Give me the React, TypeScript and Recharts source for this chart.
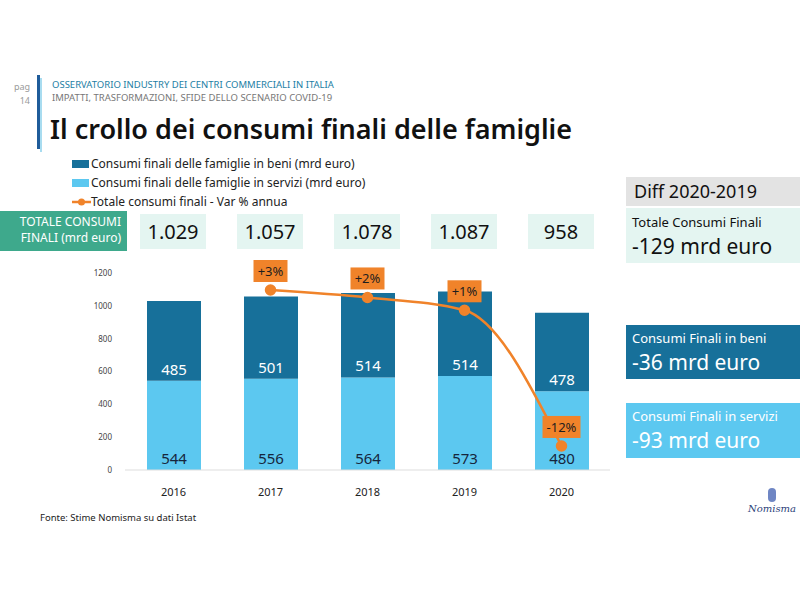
import { ComposedChart, Bar, Line, XAxis, YAxis, LabelList } from "recharts";

const years = ["2016", "2017", "2018", "2019", "2020"];
const servizi = [544, 556, 564, 573, 480];
const beni = [485, 501, 514, 514, 478];
const totals = ["1.029", "1.057", "1.078", "1.087", "958"];
const varPct = [null, 2.7, 2.0, 0.8, -11.9];
const varLabels = ["", "+3%", "+2%", "+1%", "-12%"];
const yTicks = [0, 200, 400, 600, 800, 1000, 1200];

const DARK = "#17709a";
const LIGHT = "#5cc8f0";
const ORANGE = "#f0832a";
const MINT = "#e4f5f1";
const GREEN = "#3ea98c";
const FONT = "'Noto Sans', sans-serif";

const data = years.map((y, i) => ({
  year: y,
  servizi: servizi[i],
  beni: beni[i],
  pct: varPct[i],
  pctLabel: varLabels[i],
}));

const barLabel = (color: string) => (props: any) => {
  const { x, y, width, height, value } = props;
  return (
    <text
      x={x + width / 2}
      y={y + height - 12}
      textAnchor="middle"
      dominantBaseline="central"
      fill={color}
      fontSize={15}
      fontFamily={FONT}
    >
      {value}
    </text>
  );
};

const pctLabel = (props: any) => {
  const { x, y, index } = props;
  const txt = varLabels[index];
  if (!txt) return null;
  const w = txt.length > 3 ? 38 : 34;
  return (
    <g>
      <rect x={x - w / 2} y={y - 30} width={w} height={22} fill={ORANGE} />
      <text
        x={x}
        y={y - 19}
        textAnchor="middle"
        dominantBaseline="central"
        fill="#1e1e1e"
        fontSize={13}
        fontFamily={FONT}
      >
        {txt}
      </text>
    </g>
  );
};

const abs = (l: number, t: number, w: number, h: number) => ({
  position: "absolute" as const,
  left: l,
  top: t,
  width: w,
  height: h,
});

export default function App() {
  const centers = [173, 270, 367, 464, 561];
  return (
    <div style={{ ...abs(0, 0, 800, 600), background: "#fff", fontFamily: FONT, overflow: "hidden" }}>
      {/* header */}
      <div style={{ ...abs(6, 81, 24, 12), color: "#9a9a9a", fontSize: 9, textAlign: "right", lineHeight: "12px" }}>pag</div>
      <div style={{ ...abs(6, 95, 24, 12), color: "#9a9a9a", fontSize: 9, textAlign: "right", lineHeight: "12px" }}>14</div>
      <div style={{ ...abs(37, 75, 3, 74), background: "#1f5c9a" }} />
      <div style={{ ...abs(40, 78, 2, 74), background: "#a8dcf0" }} />
      <div style={{ ...abs(52, 79, 500, 12), color: "#1d7ea4", fontSize: 9.5, lineHeight: "12px" }}>
        OSSERVATORIO INDUSTRY DEI CENTRI COMMERCIALI IN ITALIA
      </div>
      <div style={{ ...abs(52, 92, 500, 12), color: "#777", fontSize: 9.5, lineHeight: "12px" }}>
        IMPATTI, TRASFORMAZIONI, SFIDE DELLO SCENARIO COVID-19
      </div>
      <div style={{ ...abs(50, 111, 620, 36), color: "#111", fontSize: 27, fontWeight: 600, lineHeight: "36px" }}>
        Il crollo dei consumi finali delle famiglie
      </div>

      {/* legend */}
      <div style={{ ...abs(72, 154, 330, 60), fontSize: 12, color: "#222", lineHeight: "19px" }}>
        <div style={{ display: "flex", alignItems: "center" }}>
          <span style={{ width: 17, height: 8, background: DARK, marginRight: 2 }} />
          Consumi finali delle famiglie in beni (mrd euro)
        </div>
        <div style={{ display: "flex", alignItems: "center" }}>
          <span style={{ width: 17, height: 8, background: LIGHT, marginRight: 2 }} />
          Consumi finali delle famiglie in servizi (mrd euro)
        </div>
        <div style={{ display: "flex", alignItems: "center" }}>
          <svg width={19} height={10}>
            <line x1={0} y1={5} x2={19} y2={5} stroke={ORANGE} strokeWidth={2.5} />
            <circle cx={9.5} cy={5} r={3.5} fill={ORANGE} />
          </svg>
          Totale consumi finali - Var % annua
        </div>
      </div>

      {/* totals row */}
      <div
        style={{
          ...abs(0, 211, 127, 40),
          background: GREEN,
          color: "#fff",
          fontSize: 12,
          lineHeight: "16px",
          textAlign: "right",
          boxSizing: "border-box",
          paddingRight: 6,
          paddingTop: 3,
        }}
      >
        TOTALE CONSUMI
        <br />
        FINALI (mrd euro)
      </div>
      {totals.map((t, i) => (
        <div
          key={t}
          style={{
            ...abs(centers[i] - 33, 214, 66, 35),
            background: MINT,
            color: "#111",
            fontSize: 20,
            lineHeight: "35px",
            textAlign: "center",
          }}
        >
          {t}
        </div>
      ))}

      {/* chart */}
      <div style={abs(0, 260, 620, 240)}>
        <ComposedChart
          width={620}
          height={240}
          data={data}
          margin={{ top: 13, right: 10, left: 85, bottom: 0 }}
          barCategoryGap={0}
        >
          <XAxis
            dataKey="year"
            axisLine={{ stroke: "#dddddd" }}
            tickLine={false}
            tickMargin={12}
            height={30}
            tick={{ fill: "#222", fontSize: 11, fontFamily: FONT }}
          />
          <YAxis
            yAxisId="left"
            domain={[0, 1200]}
            ticks={yTicks}
            width={40}
            axisLine={false}
            tickLine={false}
            tickMargin={7}
            tick={{ fill: "#444", fontSize: 8, fontFamily: FONT }}
            interval={0}
          />
          <YAxis yAxisId="right" orientation="right" hide domain={[-14.15, 4.29]} allowDataOverflow />
          <Bar yAxisId="left" dataKey="servizi" stackId="a" fill={LIGHT} barSize={54} isAnimationActive={false}>
            <LabelList dataKey="servizi" content={barLabel("#16263d")} />
          </Bar>
          <Bar yAxisId="left" dataKey="beni" stackId="a" fill={DARK} barSize={54} isAnimationActive={false}>
            <LabelList dataKey="beni" content={barLabel("#ffffff")} />
          </Bar>
          <Line
            yAxisId="right"
            dataKey="pct"
            type="monotone"
            stroke={ORANGE}
            strokeWidth={2.5}
            dot={{ r: 4.5, fill: ORANGE, stroke: ORANGE }}
            isAnimationActive={false}
          >
            <LabelList dataKey="pct" content={pctLabel} />
          </Line>
        </ComposedChart>
      </div>

      {/* right panel */}
      <div style={{ ...abs(626, 177, 174, 29), background: "#e3e3e3", color: "#111", fontSize: 18, lineHeight: "29px", paddingLeft: 8, boxSizing: "border-box" }}>
        Diff 2020-2019
      </div>
      <div style={{ ...abs(626, 208, 174, 55), background: MINT, color: "#111" }}>
        <div style={{ ...abs(6, 5, 168, 18), fontSize: 13, lineHeight: "18px" }}>Totale Consumi Finali</div>
        <div style={{ ...abs(6, 24, 168, 28), fontSize: 21, lineHeight: "28px" }}>-129 mrd euro</div>
      </div>
      <div style={{ ...abs(626, 325, 174, 54), background: DARK, color: "#fff" }}>
        <div style={{ ...abs(6, 4, 168, 18), fontSize: 13, lineHeight: "18px" }}>Consumi Finali in beni</div>
        <div style={{ ...abs(6, 23, 168, 28), fontSize: 21, lineHeight: "28px" }}>-36 mrd euro</div>
      </div>
      <div style={{ ...abs(626, 403, 174, 55), background: LIGHT, color: "#fff" }}>
        <div style={{ ...abs(6, 4, 168, 18), fontSize: 13, lineHeight: "18px" }}>Consumi Finali in servizi</div>
        <div style={{ ...abs(6, 23, 168, 28), fontSize: 21, lineHeight: "28px" }}>-93 mrd euro</div>
      </div>

      {/* footer */}
      <div style={{ ...abs(40, 511, 300, 14), fontSize: 9.5, color: "#222", lineHeight: "14px" }}>
        Fonte: Stime Nomisma su dati Istat
      </div>
      <div style={{ ...abs(744, 488, 56, 36), textAlign: "center", color: "#2c3f7a" }}>
        <div style={{ width: 8, height: 14, margin: "0 auto", borderRadius: 4, background: "#6f86c4" }} />
        <div style={{ fontFamily: "'DejaVu Serif', serif", fontStyle: "italic", fontSize: 10, lineHeight: "14px" }}>Nomisma</div>
      </div>
    </div>
  );
}
